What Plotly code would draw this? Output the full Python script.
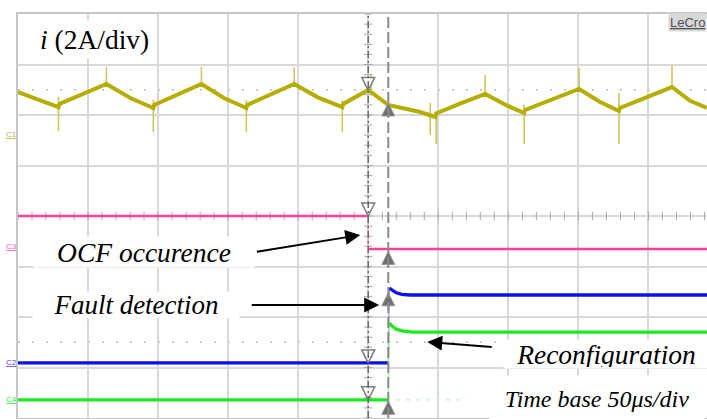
import numpy as np
import plotly.graph_objects as go

# ---------------------------------------------------------------
# Scope capture: time in µs relative to the OCF event (50 µs/div),
# vertical position in screen divisions (8 div, centre = 0).
# ---------------------------------------------------------------
T_LEFT, T_RIGHT = -250.0, 241.8

# C1 - phase current i (2 A/div): ripple vertices
c1_t = [-250.0, -234.1, -221.1, -220.4, -203.6, -186.9, -169.8, -153.4, -152.7,
        -136.0, -119.1, -103.0, -87.0, -86.3, -70.0, -52.8, -36.0, -18.5, -17.8,
        0.0, 14.3, 22.8, 37.1, 47.8, 48.5, 66.0, 83.5, 98.8, 111.3, 112.0, 131.0,
        150.5, 165.5, 179.0, 179.7, 198.0, 216.8, 229.7, 241.8]
c1_v = [2.455, 2.297, 2.158, 2.22, 2.42, 2.614, 2.337, 2.139, 2.20,
        2.41, 2.614, 2.337, 2.139, 2.20, 2.41, 2.614, 2.35, 2.158, 2.22,
        2.495, 2.198, 2.139, 2.059, 1.960, 2.03, 2.23, 2.416, 2.19, 2.040, 2.10, 2.31,
        2.515, 2.257, 2.079, 2.14, 2.35, 2.554, 2.28, 2.139]

# C1 switching spikes: time, lower and upper excursion
spike_t = [-221.1, -186.9, -153.4, -119.1, -87.0, -52.8, -18.5, 2.0,
           44.2, 48.5, 83.5, 111.3, 150.5, 179.0, 216.8]
spike_lo = [1.683, 2.60, 1.663, 2.60, 1.663, 2.60, 1.663, 2.40,
            1.604, 1.426, 2.40, 1.426, 2.50, 1.426, 2.54]
spike_hi = [2.356, 2.95, 2.30, 2.95, 2.30, 2.95, 2.30, 2.79,
            2.238, 2.06, 2.79, 2.198, 2.931, 2.436, 2.990]

# C3 - OCF occurrence signal
c3_t = [-250.0, 0.0, 0.0, 241.8]
c3_v = [0.0, 0.0, -0.653, -0.653]

# C2 - fault detection flag
c2_t = [-250.0, 14.3, 15.0, 17.0, 20.0, 24.0, 30.0, 241.8]
c2_v = [-2.91, -2.91, -1.43, -1.47, -1.52, -1.55, -1.564, -1.564]

# C4 - reconfiguration command
c4_t = [-250.0, 14.3, 15.0, 17.0, 20.0, 25.0, 32.0, 241.8]
c4_v = [-3.64, -3.64, -2.12, -2.18, -2.24, -2.28, -2.30, -2.30]

# faint persistence of C4 after the edge
c4_ghost_t = [20.0, 70.0]
c4_ghost_v = [-3.64, -3.64]

# measurement cursors
cursor_t = [0.0, 14.3]

YELLOW = "#b5ad00"
YELLOW_SPIKE = "#cdc85a"
PINK = "#ff3f9c"
BLUE = "#0c10e8"
GREEN = "#1ee81e"
GRID = "#d8d8d8"

fig = go.Figure()

# dotted reference rows
for yr in (2.5, -2.5):
    fig.add_shape(type="line", x0=T_LEFT, x1=T_RIGHT, y0=yr, y1=yr,
                  line=dict(color="#b9b9b9", width=1.5, dash="2px,12px"), layer="below")

# centre graticule ticks
tick_h = np.arange(-250, 250, 10.0)
fig.add_trace(go.Scatter(x=tick_h, y=np.zeros_like(tick_h), mode="markers",
                         marker=dict(symbol="line-ns", size=6, line=dict(color="#a8a8a8", width=1)),
                         hoverinfo="skip", showlegend=False))
tick_v = np.arange(-4, 4.01, 0.2)
fig.add_trace(go.Scatter(x=np.zeros_like(tick_v), y=tick_v, mode="markers",
                         marker=dict(symbol="line-ew", size=6, line=dict(color="#a8a8a8", width=1)),
                         hoverinfo="skip", showlegend=False))

# cursors
fig.add_shape(type="line", x0=cursor_t[0], x1=cursor_t[0], y0=-4, y1=4,
              line=dict(color="#6a6a6a", width=1.5, dash="7px,3px,2px,3px"))
fig.add_shape(type="line", x0=cursor_t[1], x1=cursor_t[1], y0=-4, y1=4,
              line=dict(color="#8a8a8a", width=2, dash="11px,4px"))


def step_trace(t, v, color, edge_color, width):
    # thin edge first, then the flat levels drawn thick
    fig.add_trace(go.Scatter(x=t, y=v, mode="lines", line=dict(color=edge_color, width=1.3),
                             hoverinfo="skip", showlegend=False))
    t = np.asarray(t)
    v = np.asarray(v)
    k = int(np.argmax(np.abs(np.diff(v)) > 0.3))
    xs = list(t[:k + 1]) + [None] + list(t[k + 1:])
    ys = list(v[:k + 1]) + [None] + list(v[k + 1:])
    fig.add_trace(go.Scatter(x=xs, y=ys, mode="lines", line=dict(color=color, width=width),
                             connectgaps=False, hoverinfo="skip", showlegend=False))


step_trace(c3_t, c3_v, PINK, "#ff9fcf", 2.5)
step_trace(c2_t, c2_v, BLUE, "#9a9cf5", 3.3)
step_trace(c4_t, c4_v, GREEN, "#a0f5a0", 3.3)
fig.add_trace(go.Scatter(x=c4_ghost_t, y=c4_ghost_v, mode="lines",
                         line=dict(color="#d2f7d2", width=2, dash="4px,6px"),
                         hoverinfo="skip", showlegend=False))

# C1 spikes and waveform
sx, sy = [], []
for t, lo, hi in zip(spike_t, spike_lo, spike_hi):
    sx += [t, t, None]
    sy += [lo, hi, None]
fig.add_trace(go.Scatter(x=sx, y=sy, mode="lines", line=dict(color=YELLOW_SPIKE, width=1.6),
                         hoverinfo="skip", showlegend=False))
fig.add_trace(go.Scatter(x=c1_t, y=c1_v, mode="lines", line=dict(color=YELLOW, width=4),
                         hoverinfo="skip", showlegend=False))

# cursor markers on each channel
c1_a = np.interp(cursor_t[0] - 0.5, c1_t, c1_v)
c1_b = np.interp(cursor_t[1], c1_t, c1_v) + 0.04
lv1 = [c1_a, np.interp(-0.5, c3_t, c3_v), np.interp(-0.5, c2_t, c2_v), np.interp(-0.5, c4_t, c4_v)]
lv2 = [c1_b, np.interp(cursor_t[1] + 6, c3_t, c3_v) - 0.05,
       np.interp(cursor_t[1] + 6, c2_t, c2_v), np.interp(cursor_t[1] - 1, c4_t, c4_v) - 0.03]
fig.add_trace(go.Scatter(x=[cursor_t[0]] * 4, y=lv1, mode="markers",
                         marker=dict(symbol="arrow-down", size=13, color="white",
                                     line=dict(color="#7c7c7c", width=1.5)),
                         hoverinfo="skip", showlegend=False))
fig.add_trace(go.Scatter(x=[cursor_t[1]] * 4, y=lv2, mode="markers",
                         marker=dict(symbol="arrow-up", size=13, color="#6f6f6f",
                                     line=dict(color="#9a9a9a", width=1)),
                         hoverinfo="skip", showlegend=False))

SERIF = "Liberation Serif"
ann = []

ann.append(dict(x=-237.5, y=3.50, xref="x", yref="y", xanchor="left", yanchor="middle",
                text="<i>i</i> (2A/div)", showarrow=False, bgcolor="white", borderpad=3,
                font=dict(family=SERIF, size=27.5, color="black")))
ann.append(dict(x=-159.8, y=-0.72, xref="x", yref="y", xanchor="center", yanchor="middle",
                text="<i>OCF occurence</i>", showarrow=False, bgcolor="white", borderpad=1,
                width=218, height=28, font=dict(family=SERIF, size=27.5, color="black")))
ann.append(dict(x=-165.8, y=-1.772, xref="x", yref="y", xanchor="center", yanchor="middle",
                text="<i>Fault detection</i>", showarrow=False, bgcolor="white", borderpad=1,
                width=204, height=24, font=dict(family=SERIF, size=27, color="black")))
ann.append(dict(x=170, y=-2.733, xref="x", yref="y", xanchor="center", yanchor="middle",
                text="<i>Reconfiguration</i>", showarrow=False, bgcolor="white", borderpad=1,
                width=202, height=26, font=dict(family=SERIF, size=27.5, color="black")))
ann.append(dict(x=163.5, y=-3.62, xref="x", yref="y", xanchor="center", yanchor="middle",
                text="<i>Time base 50μs/div</i>", showarrow=False, bgcolor="white", borderpad=1,
                width=212, height=44, font=dict(family=SERIF, size=24, color="black")))

# pointer arrows
for (x0, y0, x1, y1) in [(-80.6, -0.713, -5.7, -0.376),
                         (-84.2, -1.762, 7.8, -1.762),
                         (89.2, -2.594, 42.1, -2.495)]:
    ann.append(dict(x=x1, y=y1, ax=x0, ay=y0, xref="x", yref="y", axref="x", ayref="y",
                    text="", showarrow=True, arrowhead=2, arrowsize=1.5, arrowwidth=2,
                    arrowcolor="black", standoff=0, startstandoff=0))

# instrument tag (clipped by the screen edge)
ann.append(dict(x=1.0, y=3.84, xref="paper", yref="y", xanchor="right", yanchor="middle",
                text="<u>LeCro</u>", showarrow=False, bgcolor="#d9d9d9", borderpad=1,
                font=dict(family="Liberation Sans", size=13, color="#505050")))

# channel labels in the left strip
for lab, yv, col in [("C1", 1.62, "#b9b34a"), ("C3", -0.60, "#ff5aa8"),
                     ("C2", -2.91, "#4448f0"), ("C4", -3.64, "#3ae83a")]:
    ann.append(dict(x=-0.0095, y=yv, xref="paper", yref="y", xanchor="center", yanchor="middle",
                    text="<u>" + lab + "</u>", showarrow=False,
                    font=dict(family="Liberation Sans", size=8, color=col)))

axis_common = dict(showgrid=True, gridcolor=GRID, gridwidth=1.5, zeroline=False,
                   showticklabels=False, ticks="", showline=True, linecolor="#c6c6c6",
                   linewidth=2, fixedrange=True)

fig.update_layout(
    width=707, height=419,
    margin=dict(l=18, r=0, t=14, b=1),
    paper_bgcolor="white", plot_bgcolor="white",
    xaxis=dict(range=[T_LEFT, T_RIGHT], dtick=50, tick0=-250, mirror=True, **axis_common),
    yaxis=dict(range=[-4, 4], dtick=1, tick0=0, mirror=False, **axis_common),
    annotations=ann,
    showlegend=False,
)

fig.write_html("out.html")
